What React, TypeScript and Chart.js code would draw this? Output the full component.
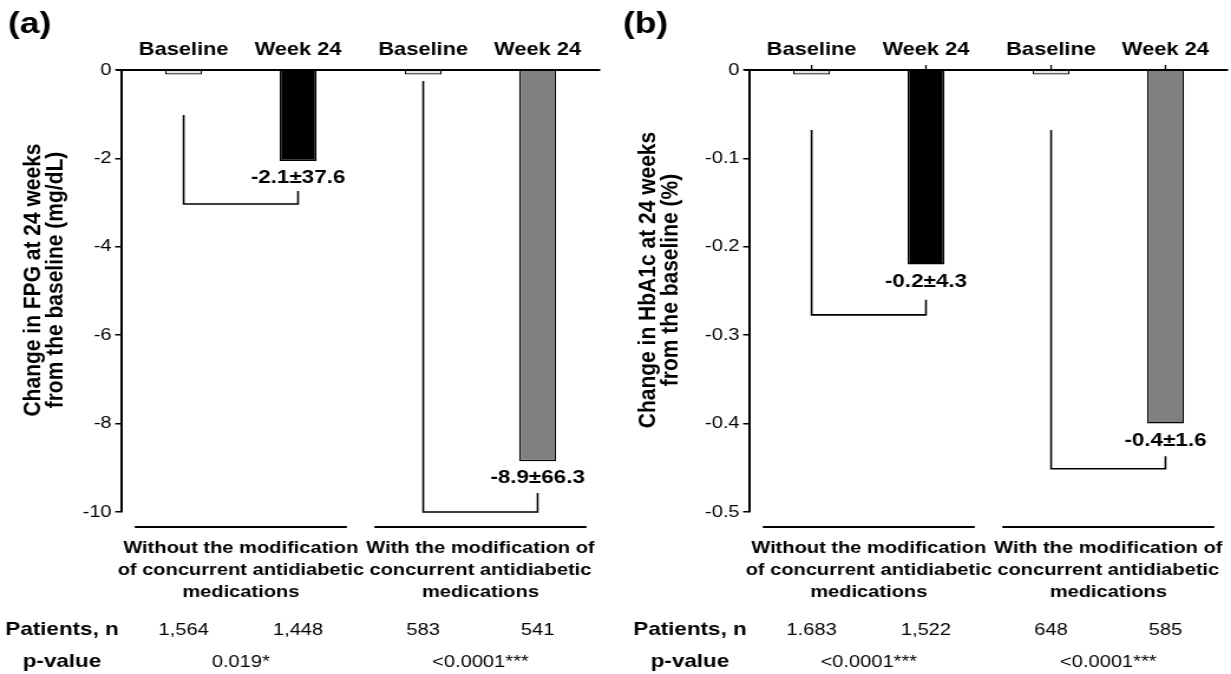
import React, { useEffect, useRef } from 'react';
import { Chart, registerables } from 'chart.js';

Chart.register(...registerables);

// ---------------- data ----------------
const timepoints = ['Baseline', 'Week 24'];
const groups = ['Without modification', 'With modification'];
const groupLabelLines = [
  ['Without the modification', 'of concurrent antidiabetic', 'medications'],
  ['With the modification of', 'concurrent antidiabetic', 'medications'],
];
const rowLabels = ['Patients, n', 'p-value'];

// Panel (a): FPG
const fpgTitle = ['Change in FPG at 24 weeks', 'from the baseline (mg/dL)'];
const fpgBaseline = [-0.1, -0.1];
const fpgWeek24 = [-2.06, -8.85];
const fpgChangeLabels = ['-2.1±37.6', '-8.9±66.3'];
const fpgBracketFrom = [-1.02, -0.25];
const fpgBracketLow = [-3.03, -10];
const fpgBracketTo = [-2.74, -9.57];
const fpgPatients = [['1,564', '1,448'], ['583', '541']];
const fpgPValues = ['0.019*', '<0.0001***'];
const fpgMin = -10;
const fpgMax = 0;
const fpgStep = 2;

// Panel (b): HbA1c
const hbaTitle = ['Change in HbA1c at 24 weeks', 'from the baseline (%)'];
const hbaBaseline = [-0.005, -0.005];
const hbaWeek24 = [-0.22, -0.4];
const hbaChangeLabels = ['-0.2±4.3', '-0.4±1.6'];
const hbaBracketFrom = [-0.068, -0.068];
const hbaBracketLow = [-0.277, -0.451];
const hbaBracketTo = [-0.26, -0.437];
const hbaPatients = [['1.683', '1,522'], ['648', '585']];
const hbaPValues = ['<0.0001***', '<0.0001***'];
const hbaMin = -0.5;
const hbaMax = 0;
const hbaStep = 0.1;

// ---------------- layout ----------------
const SX = 1.18; // the printed figure is stretched horizontally
const H = 674;
const TOP = 70;
const BOTTOM = 512;
const FONT = 'Arial, "Liberation Sans", Helvetica, sans-serif';

type Spec = {
  letter: string;
  title: string[];
  baseline: number[];
  week24: number[];
  changeLabels: string[];
  from: number[];
  low: number[];
  to: number[];
  patients: string[][];
  pValues: string[];
  min: number;
  max: number;
  step: number;
  cssLeft: number;
  cssWidth: number;
  axisX: number;
  rightX: number;
  topTicks: boolean;
};

const panelA: Spec = {
  letter: '(a)', title: fpgTitle, baseline: fpgBaseline, week24: fpgWeek24,
  changeLabels: fpgChangeLabels, from: fpgBracketFrom, low: fpgBracketLow, to: fpgBracketTo,
  patients: fpgPatients, pValues: fpgPValues, min: fpgMin, max: fpgMax, step: fpgStep,
  cssLeft: 0, cssWidth: 615, axisX: 121, rightX: 600, topTicks: false,
};
const panelB: Spec = {
  letter: '(b)', title: hbaTitle, baseline: hbaBaseline, week24: hbaWeek24,
  changeLabels: hbaChangeLabels, from: hbaBracketFrom, low: hbaBracketLow, to: hbaBracketTo,
  patients: hbaPatients, pValues: hbaPValues, min: hbaMin, max: hbaMax, step: hbaStep,
  cssLeft: 615, cssWidth: 616, axisX: 134, rightX: 613, topTicks: true,
};

function line(ctx: CanvasRenderingContext2D, x1: number, y1: number, x2: number, y2: number) {
  ctx.beginPath();
  ctx.moveTo(x1, y1);
  ctx.lineTo(x2, y2);
  ctx.stroke();
}

function makePlugin(spec: Spec) {
  return {
    id: 'annot',
    afterDraw(chart: any) {
      const ctx: CanvasRenderingContext2D = chart.ctx;
      const { left, right } = chart.chartArea;
      const ys = chart.scales.y;
      const xs = chart.scales.x;
      const mb = chart.getDatasetMeta(0);
      const mw = chart.getDatasetMeta(1);
      ctx.save();
      ctx.strokeStyle = '#000';
      ctx.fillStyle = '#000';

      // zero line
      const y0 = ys.getPixelForValue(0);
      ctx.lineWidth = 2;
      line(ctx, left - 4, y0, right, y0);

      // small ticks above zero line
      if (spec.topTicks) {
        ctx.lineWidth = 1.3;
        for (let g = 0; g < groups.length; g++) {
          line(ctx, mb.data[g].x, y0, mb.data[g].x, y0 - 5);
          line(ctx, mw.data[g].x, y0, mw.data[g].x, y0 - 5);
        }
      }

      // header labels
      ctx.font = `bold 18.5px ${FONT}`;
      ctx.textAlign = 'center';
      ctx.textBaseline = 'alphabetic';
      for (let g = 0; g < groups.length; g++) {
        ctx.fillText(timepoints[0], mb.data[g].x, 55);
        ctx.fillText(timepoints[1], mw.data[g].x, 55);
      }

      // brackets
      ctx.lineWidth = 1.6;
      for (let g = 0; g < groups.length; g++) {
        const xL = mb.data[g].x;
        const xR = mw.data[g].x;
        ctx.beginPath();
        ctx.moveTo(xL, ys.getPixelForValue(spec.from[g]));
        ctx.lineTo(xL, ys.getPixelForValue(spec.low[g]));
        ctx.lineTo(xR, ys.getPixelForValue(spec.low[g]));
        ctx.lineTo(xR, ys.getPixelForValue(spec.to[g]));
        ctx.stroke();
      }

      // change labels
      ctx.font = `bold 19px ${FONT}`;
      ctx.textBaseline = 'middle';
      for (let g = 0; g < groups.length; g++) {
        ctx.fillText(spec.changeLabels[g], mw.data[g].x, mw.data[g].y + 17);
      }

      // group lines and labels
      for (let g = 0; g < groups.length; g++) {
        const cx = xs.getPixelForValue(g);
        const half = 106 / SX;
        ctx.lineWidth = 2;
        line(ctx, cx - half, 527, cx + half, 527);
        ctx.font = `bold 17px ${FONT}`;
        groupLabelLines[g].forEach((t, i) => ctx.fillText(t, cx, 548 + i * 22));
      }

      // patients row / p-value row
      ctx.font = `bold 19px ${FONT}`;
      ctx.textAlign = 'right';
      ctx.fillText(rowLabels[0], left - 2, 630);
      const w = ctx.measureText(rowLabels[0]).width;
      ctx.textAlign = 'center';
      ctx.fillText(rowLabels[1], left - 2 - w / 2, 662);
      ctx.font = `17px ${FONT}`;
      for (let g = 0; g < groups.length; g++) {
        ctx.fillText(spec.patients[g][0], mb.data[g].x, 630);
        ctx.fillText(spec.patients[g][1], mw.data[g].x, 630);
        ctx.fillText(spec.pValues[g], xs.getPixelForValue(g), 662);
      }

      // panel letter
      ctx.font = `bold 30px ${FONT}`;
      ctx.textAlign = 'left';
      ctx.textBaseline = 'alphabetic';
      ctx.fillText(spec.letter, 8 / SX, 33);

      // y axis title
      ctx.save();
      ctx.translate(28, 280);
      ctx.rotate(-Math.PI / 2);
      ctx.font = `bold 21px ${FONT}`;
      ctx.textAlign = 'center';
      ctx.textBaseline = 'middle';
      spec.title.forEach((t, i) => ctx.fillText(t, 0, i * 19.5));
      ctx.restore();

      ctx.restore();
    },
  };
}

function Panel({ spec }: { spec: Spec }) {
  const ref = useRef<HTMLCanvasElement>(null);
  const w = Math.round(spec.cssWidth / SX);
  useEffect(() => {
    const axisInt = spec.axisX / SX;
    const rightInt = spec.rightX / SX;
    const chart = new Chart(ref.current as HTMLCanvasElement, {
      type: 'bar',
      data: {
        labels: groups,
        datasets: [
          {
            label: timepoints[0],
            data: spec.baseline,
            backgroundColor: '#e6e6e6',
            borderColor: '#000',
            borderWidth: 1.2,
            categoryPercentage: 0.955,
            barPercentage: 0.323,
          },
          {
            label: timepoints[1],
            data: spec.week24,
            backgroundColor: ['#000000', '#808080'],
            borderColor: '#000',
            borderWidth: 1.5,
            categoryPercentage: 0.955,
            barPercentage: 0.323,
          },
        ],
      },
      options: {
        responsive: false,
        animation: false,
        devicePixelRatio: 1,
        layout: { padding: { left: 0, top: TOP, right: w - rightInt, bottom: H - BOTTOM } },
        plugins: { legend: { display: false }, tooltip: { enabled: false } },
        scales: {
          x: { display: false, offset: true },
          y: {
            min: spec.min,
            max: spec.max,
            ticks: { stepSize: spec.step, color: '#000', font: { family: FONT, size: 17 }, padding: 3 },
            grid: { drawOnChartArea: false, color: '#000', tickLength: 5, lineWidth: 1.5 },
            border: { color: '#000', width: 2 },
            afterFit: (s: any) => { s.width = axisInt; },
          },
        },
      },
      plugins: [makePlugin(spec)],
    } as any);
    return () => chart.destroy();
  }, []);
  return (
    <canvas
      ref={ref}
      width={w}
      height={H}
      style={{ position: 'absolute', left: spec.cssLeft, top: 0, width: spec.cssWidth, height: H }}
    />
  );
}

export default function App() {
  return (
    <div style={{ position: 'fixed', left: 0, top: 0, width: 1231, height: 674, background: '#fff', overflow: 'hidden' }}>
      <Panel spec={panelA} />
      <Panel spec={panelB} />
    </div>
  );
}
